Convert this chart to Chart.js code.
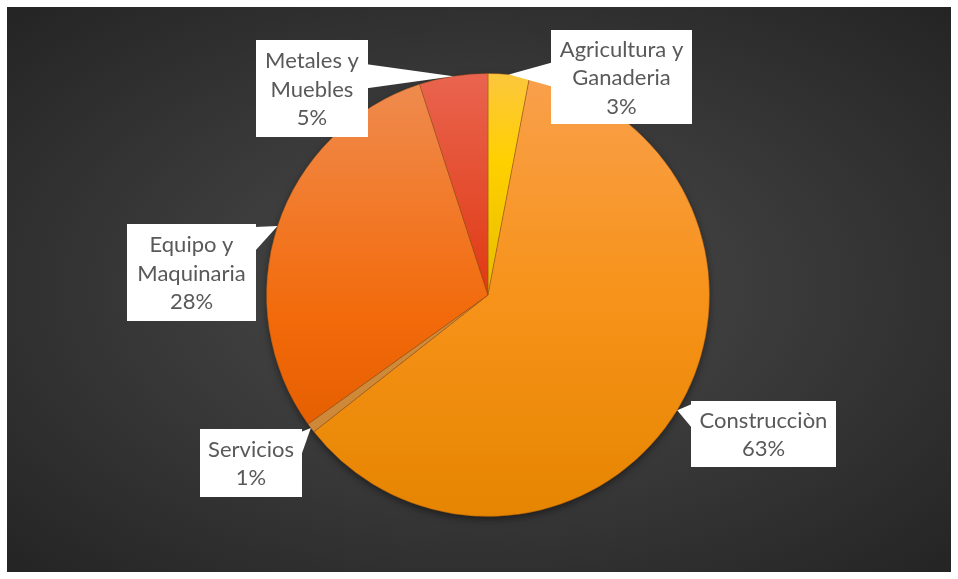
<!DOCTYPE html>
<html>
<head>
<meta charset="utf-8">
<script src="https://cdn.jsdelivr.net/npm/chart.js@4.4.0/dist/chart.umd.min.js"></script>
<style>
  body { margin: 0; background: #fff; }
  #wrap {
    position: absolute; left: 7px; top: 7px; width: 944px; height: 565px;
    background: radial-gradient(ellipse farthest-corner at 50% 50%, #4c4c4c 0%, #3a3a3a 45%, #242424 100%);
  }
</style>
</head>
<body>
<div id="wrap"><canvas id="pieChart" width="944" height="565"></canvas></div>
<script>
// data
const categories = [
    ['Agricultura y', 'Ganaderia'],
    ['Construcciòn'],
    ['Servicios'],
    ['Equipo y', 'Maquinaria'],
    ['Metales y', 'Muebles']
];
// slice sizes
const shares = [3.0, 61.4, 0.7, 29.9, 5.0];
// percentages as printed on the labels
const percentLabels = ['3%', '63%', '1%', '28%', '5%'];

// vertical gradient stops per slice (0 = top of pie, 1 = bottom)
const sliceStops = [
    [[0, '#FCC63E'], [0.2, '#FFD000'], [0.5, '#E6BC00']],
    [[0, '#F9A04C'], [0.5, '#F7931A'], [1, '#E68500']],
    [[0, '#D49040'], [1, '#CC8636']],
    [[0, '#EE8C52'], [0.3, '#F27A2A'], [0.55, '#F26A0A'], [0.8, '#E55E00']],
    [[0, '#E9644F'], [0.5, '#E03A12']]
];

// callout boxes (canvas px): x, y, w, h
const boxes = [
    {x: 544, y: 23, w: 141, h: 94},
    {x: 684, y: 394, w: 145, h: 66},
    {x: 193, y: 422, w: 102, h: 68},
    {x: 120, y: 217, w: 129, h: 97},
    {x: 249, y: 33, w: 112, h: 97}
];

function sliceFill(c) {
    const chart = c.chart;
    const area = chart.chartArea;
    const stops = sliceStops[c.dataIndex];
    if (!area) return stops[0][1];
    const g = chart.ctx.createLinearGradient(0, area.top, 0, area.bottom);
    stops.forEach(s => g.addColorStop(s[0], s[1]));
    return g;
}

const pieShadow = {
    id: 'pieShadow',
    beforeDatasetsDraw(chart) {
        const arc = chart.getDatasetMeta(0).data[0];
        if (!arc) return;
        const ctx = chart.ctx;
        ctx.save();
        ctx.shadowColor = 'rgba(0,0,0,0.55)';
        ctx.shadowBlur = 9;
        ctx.shadowOffsetY = 3;
        ctx.fillStyle = '#303030';
        ctx.beginPath();
        ctx.arc(arc.x, arc.y, arc.outerRadius - 1, 0, Math.PI * 2);
        ctx.fill();
        ctx.restore();
    }
};

const callouts = {
    id: 'callouts',
    afterDatasetsDraw(chart) {
        const ctx = chart.ctx;
        const meta = chart.getDatasetMeta(0);
        ctx.save();
        meta.data.forEach((arc, i) => {
            const b = boxes[i];
            // pointer tip: rim of the slice at its mid angle
            const ang = (arc.startAngle + arc.endAngle) / 2;
            const tx = arc.x + Math.cos(ang) * arc.outerRadius;
            const ty = arc.y + Math.sin(ang) * arc.outerRadius;

            ctx.fillStyle = '#ffffff';
            ctx.fillRect(b.x, b.y, b.w, b.h);

            const half = 12;
            ctx.beginPath();
            if (tx > b.x + b.w || tx < b.x) {
                const ex = tx > b.x + b.w ? b.x + b.w - 1 : b.x + 1;
                const cy = Math.min(Math.max(ty, b.y + half + 3), b.y + b.h - half - 3);
                ctx.moveTo(ex, cy - half);
                ctx.lineTo(tx, ty);
                ctx.lineTo(ex, cy + half);
            } else {
                const ey = ty < b.y ? b.y + 1 : b.y + b.h - 1;
                const cx = Math.min(Math.max(tx, b.x + half + 3), b.x + b.w - half - 3);
                ctx.moveTo(cx - half, ey);
                ctx.lineTo(tx, ty);
                ctx.lineTo(cx + half, ey);
            }
            ctx.closePath();
            ctx.fill();

            const lines = categories[i].concat([percentLabels[i]]);
            const lh = 28.5;
            ctx.fillStyle = '#595959';
            ctx.font = '22px Lato, "Liberation Sans", sans-serif';
            ctx.textAlign = 'center';
            ctx.textBaseline = 'middle';
            const top = b.y + b.h / 2 - (lines.length * lh) / 2 + lh / 2 + 1;
            lines.forEach((ln, k) => ctx.fillText(ln, b.x + b.w / 2, top + k * lh));
        });
        ctx.restore();
    }
};

const ctx = document.getElementById('pieChart');
const pieChart = new Chart(ctx, {
    type: 'pie',
    data: {
        labels: categories,
        datasets: [{
            data: shares,
            backgroundColor: sliceFill,
            borderColor: 'rgba(150,80,20,0.45)',
            borderWidth: 1
        }]
    },
    options: {
        responsive: false,
        animation: false,
        layout: {
            padding: {top: 66, bottom: 55, left: 100, right: 82}
        },
        plugins: {
            legend: {display: false},
            tooltip: {enabled: false}
        }
    },
    plugins: [pieShadow, callouts]
});
</script>
</body>
</html>
